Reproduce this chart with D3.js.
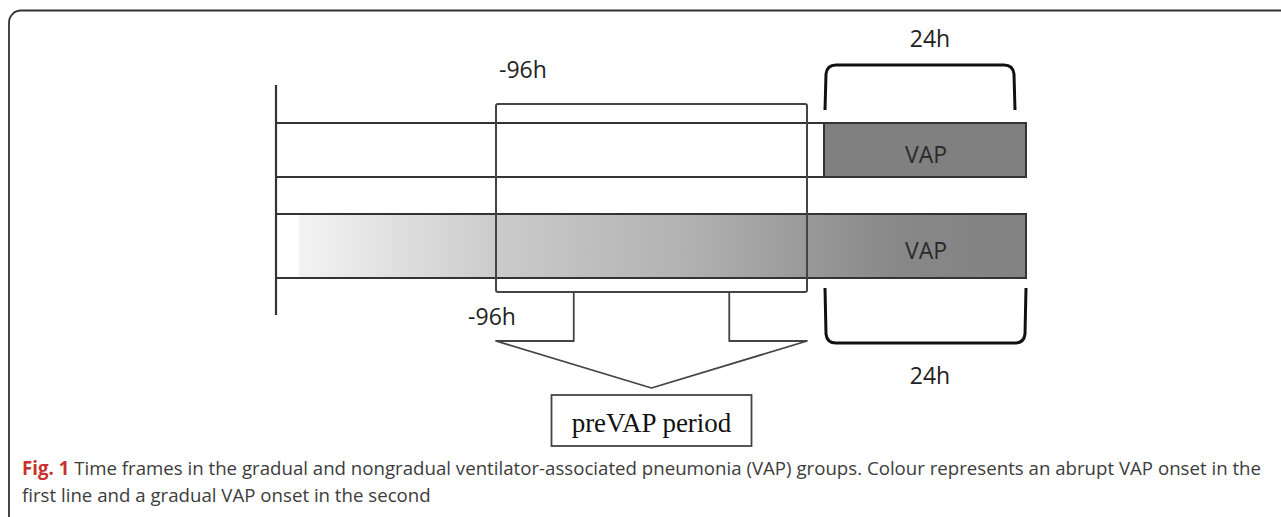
<!DOCTYPE html>
<style>
body { margin: 0; background: #fff; }
svg { display: block; }
</style>
<svg width="1281" height="517"></svg>
<script src="https://cdn.jsdelivr.net/npm/d3@7"></script>
<script>

// timeline in hours relative to VAP onset (diagram is not to scale)
var hourStops = [-120, -96, 0, 24];
var rows = ["abrupt", "gradual"];
var windowLabels = ["-96h", "24h"];
var vapLabel = "VAP";
var preVapLabel = "preVAP period";
var arrowHours = [-72, -48, -24];   // left stem, tip, right stem

// gradient shade for the gradual onset row
var shadeHours = [-117.5, -96, -40, 0, 10, 24];
var shadeColors = ["#f3f3f3", "#cbcbcb", "#b3b3b3", "#999999", "#888888", "#828282"];

var captionBold = "Fig. 1";
var captionLines = [
    " Time frames in the gradual and nongradual ventilator-associated pneumonia (VAP) groups. Colour represents an abrupt VAP onset in the",
    "first line and a gradual VAP onset in the second"
];

var svg = d3.select("svg");

var x = d3.scaleLinear()
    .domain(hourStops)
    .range([276, 496, 807, 1026]);

var onsetGap = 17;   // gap between the preVAP frame and the VAP block
var vapX = x(0) + onsetGap;

// rows: top / bottom
var rowY = { abrupt: [123, 177], gradual: [214, 278] };

var ink = "#333";

// outer frame
svg.append("rect")
    .attr("x", 9).attr("y", 10.5)
    .attr("width", 1300).attr("height", 520)
    .attr("rx", 12)
    .attr("fill", "none")
    .attr("stroke", "#333")
    .attr("stroke-width", 1.8);

// gradient definition
var defs = svg.append("defs");
var x0 = x(hourStops[0]), x2 = x(24);
var grad = defs.append("linearGradient")
    .attr("id", "shade")
    .attr("gradientUnits", "userSpaceOnUse")
    .attr("x1", x0).attr("x2", x2)
    .attr("y1", 0).attr("y2", 0);
var off = function(h) { return (x(h) - x0) / (x2 - x0); };
grad.append("stop").attr("offset", off(shadeHours[0]) - 0.001).attr("stop-color", "#fff");
shadeHours.forEach(function(h, i) {
    grad.append("stop").attr("offset", off(h)).attr("stop-color", shadeColors[i]);
});

// row 1: abrupt onset
var r1 = rowY.abrupt;
svg.append("g").selectAll("line")
    .data(r1)
    .enter().append("line")
    .attr("x1", x0).attr("x2", vapX)
    .attr("y1", function(d) { return d; }).attr("y2", function(d) { return d; })
    .attr("stroke", ink).attr("stroke-width", 2);

svg.append("rect")
    .attr("x", vapX).attr("y", r1[0])
    .attr("width", x(24) - vapX).attr("height", r1[1] - r1[0])
    .attr("fill", "#808080")
    .attr("stroke", ink).attr("stroke-width", 2);

// row 2: gradual onset
var r2 = rowY.gradual;
svg.append("rect")
    .attr("x", x0).attr("y", r2[0])
    .attr("width", x(24) - x0).attr("height", r2[1] - r2[0])
    .attr("fill", "url(#shade)")
    .attr("stroke", ink).attr("stroke-width", 2);

// VAP labels
svg.append("g").selectAll("text")
    .data(rows)
    .enter().append("text")
    .attr("x", (vapX + x(24)) / 2 + 1)
    .attr("y", function(d) { return (rowY[d][0] + rowY[d][1]) / 2 + 13; })
    .attr("text-anchor", "middle")
    .attr("font-family", "Open Sans, sans-serif")
    .attr("font-size", 23)
    .attr("fill", "#2a2a2a")
    .text(vapLabel);

// vertical start line
svg.append("line")
    .attr("x1", x0).attr("x2", x0)
    .attr("y1", 85).attr("y2", 315)
    .attr("stroke", ink).attr("stroke-width", 2.2);

// preVAP frame
svg.append("rect")
    .attr("x", x(-96)).attr("y", 104)
    .attr("width", x(0) - x(-96)).attr("height", 292 - 104)
    .attr("rx", 2)
    .attr("fill", "none")
    .attr("stroke", "#444").attr("stroke-width", 2);

// arrow from the frame down to the label
var aL = x(arrowHours[0]), aT = x(arrowHours[1]), aR = x(arrowHours[2]);
var arrow = d3.path();
arrow.moveTo(aL, 292); arrow.lineTo(aL, 341); arrow.lineTo(x(-96), 341); arrow.lineTo(aT, 388);
arrow.lineTo(x(0), 341); arrow.lineTo(aR, 341); arrow.lineTo(aR, 292);
svg.append("path")
    .attr("d", arrow.toString())
    .attr("fill", "none")
    .attr("stroke", "#444").attr("stroke-width", 1.8)
    .attr("stroke-linejoin", "round");

// preVAP period box
svg.append("rect")
    .attr("x", aT - 100).attr("y", 395)
    .attr("width", 200).attr("height", 51)
    .attr("fill", "#fff")
    .attr("stroke", "#444").attr("stroke-width", 1.8);
svg.append("text")
    .attr("x", aT).attr("y", 432)
    .attr("text-anchor", "middle")
    .attr("font-family", "Liberation Serif, Times New Roman, serif")
    .attr("font-size", 27)
    .attr("fill", "#111")
    .text(preVapLabel);

// 24h brackets
var bracket = function(xa, xb, yEnd, yBar) {
    var s = yBar < yEnd ? 1 : -1, r = 9;
    var p = d3.path();
    p.moveTo(xa, yEnd);
    p.lineTo(xa + 1, yBar + s * r);
    p.quadraticCurveTo(xa + 2, yBar, xa + 2 + r, yBar);
    p.lineTo(xb - 2 - r, yBar);
    p.quadraticCurveTo(xb - 2, yBar, xb - 1, yBar + s * r);
    p.lineTo(xb, yEnd);
    return p.toString();
};
svg.append("path")
    .attr("d", bracket(vapX + 1, x(24) - 11, 110, 65))
    .attr("fill", "none").attr("stroke", "#111").attr("stroke-width", 3);
svg.append("path")
    .attr("d", bracket(vapX + 1, x(24), 288, 343))
    .attr("fill", "none").attr("stroke", "#111").attr("stroke-width", 3);

// window labels
var lbl = function(t, xx, yy, anchor) {
    svg.append("text")
        .attr("x", xx).attr("y", yy)
        .attr("text-anchor", anchor)
        .attr("font-family", "Open Sans, sans-serif")
        .attr("font-size", 23)
        .attr("fill", "#222")
        .text(t);
};
lbl(windowLabels[0], x(-96) + 3, 78, "start");
lbl(windowLabels[0], x(-96) - 4, 325, "middle");
lbl(windowLabels[1], (vapX + x(24)) / 2 + 5, 47, "middle");
lbl(windowLabels[1], (vapX + x(24)) / 2 + 5, 384, "middle");

// caption
var cap = svg.append("text")
    .attr("font-family", "Open Sans, sans-serif")
    .attr("font-size", 17.5)
    .attr("fill", "#3c3c3c");
var l1 = cap.append("tspan").attr("x", 22).attr("y", 475);
l1.append("tspan").attr("font-weight", "bold").attr("fill", "#c8312d").text(captionBold);
l1.append("tspan").text(captionLines[0]);
cap.append("tspan").attr("x", 22).attr("y", 502).text(captionLines[1]);

// fit the first caption line to the frame width
var w1 = l1.node().getComputedTextLength();
if (w1 > 0) cap.attr("font-size", 17.5 * 1240 / w1);

</script>
